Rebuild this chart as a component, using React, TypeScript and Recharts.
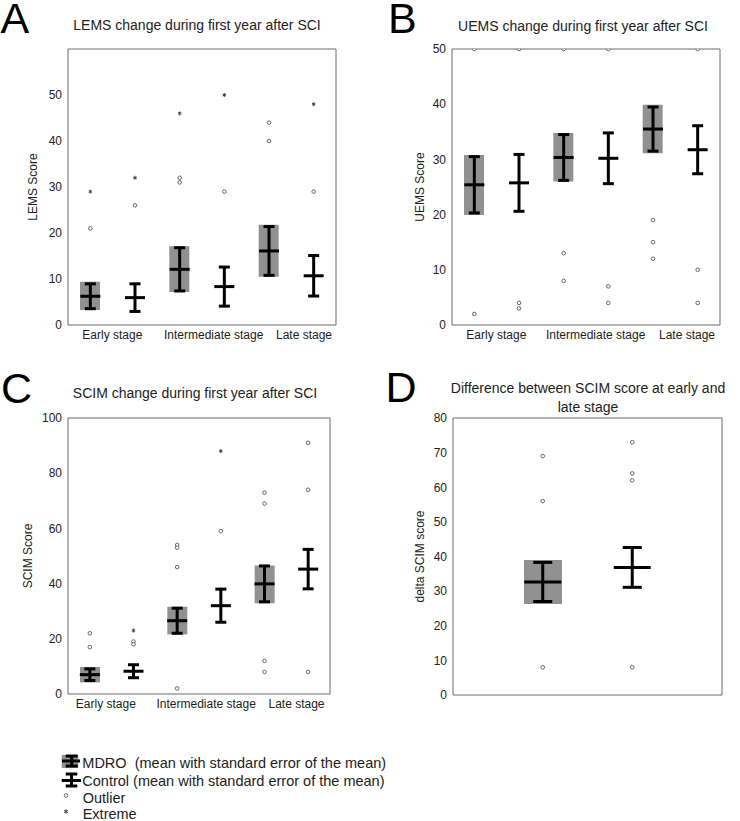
import { ComposedChart, Bar, Scatter, ErrorBar, XAxis, YAxis } from 'recharts'

// ── Data ──────────────────────────────────────────────────────────────────────

const stages = ['Early stage', 'Intermediate stage', 'Late stage']
const slots = [
  'Early MDRO', 'Early Control',
  'Intermediate MDRO', 'Intermediate Control',
  'Late MDRO', 'Late Control',
]
const deltaSlots = ['MDRO', 'Control']

// A — LEMS
const lemsMean = [6.25, 5.95, 12.1, 8.35, 16.1, 10.7]
const lemsSem = [2.7, 3.0, 4.7, 4.25, 5.3, 4.4]
const lemsBox = [[3.25, 9.4], null, [7.15, 17.1], null, [10.5, 21.8], null]
const lemsOutliers = [[21], [26], [32, 31], [29], [44, 40], [29]]
const lemsExtremes = [[29], [32], [46], [50], [], [48]]

// B — UEMS
const uemsMean = [25.4, 25.75, 30.35, 30.2, 35.5, 31.75]
const uemsSem = [5.1, 5.15, 4.15, 4.6, 4.0, 4.35]
const uemsBox = [[19.95, 30.8], null, [26.0, 34.8], null, [31.1, 39.9], null]
const uemsOutliers = [[50, 2], [50, 4, 3], [50, 13, 8], [50, 7, 4], [19, 15, 12], [50, 10, 4]]
const uemsExtremes = [[], [], [], [], [], []]

// C — SCIM
const scimMean = [7.0, 8.25, 26.55, 32.0, 39.9, 45.25]
const scimSem = [2.1, 2.35, 4.55, 6.0, 6.5, 7.15]
const scimBox = [[4.2, 9.8], null, [21.6, 31.6], null, [32.9, 46.6], null]
const scimOutliers = [[22, 17], [19, 18], [54, 53, 46, 2], [59], [73, 69, 12, 8], [91, 74, 8]]
const scimExtremes = [[], [23], [], [88], [], []]

// D — delta SCIM
const deltaMean = [32.65, 36.85]
const deltaSem = [5.65, 5.75]
const deltaBox = [[26.3, 39.0], null]
const deltaOutliers = [[69, 56, 8], [73, 64, 62, 8]]
const deltaExtremes = [[], []]

// ── Helpers ───────────────────────────────────────────────────────────────────

type Row = Record<string, any>

function buildRows(
  names: string[], mean: number[], sem: number[],
  box: (number[] | null)[], outliers: number[][], extremes: number[][],
): Row[] {
  return names.map((slot, i) => {
    const row: Row = { slot, mean: mean[i], sem: sem[i], box: box[i] }
    outliers[i].forEach((v, k) => { row['o' + k] = v })
    extremes[i].forEach((v, k) => { row['x' + k] = v })
    return row
  })
}

const INK = '#222'
const FRAME = '#6a6a6a'
const BOX = '#919191'
const FONT = '"Liberation Sans", Arial, sans-serif'

const nothing = () => <g />

const meanShape = (half: number) => (p: any) =>
  p.cx == null || p.cy == null ? <g /> : (
    <line x1={p.cx - half} x2={p.cx + half} y1={p.cy} y2={p.cy} stroke="#000" strokeWidth={3} />
  )

const outlierShape = (p: any) =>
  p.cx == null || p.cy == null ? <g /> : (
    <circle cx={p.cx} cy={p.cy} r={1.8} fill="#fff" stroke="#444" strokeWidth={0.8} />
  )

function Asterisk({ cx, cy, r }: { cx: number; cy: number; r: number }) {
  const d = r * 0.87
  const h = r * 0.5
  return (
    <g stroke="#333" strokeWidth={0.9}>
      <line x1={cx} x2={cx} y1={cy - r} y2={cy + r} />
      <line x1={cx - d} x2={cx + d} y1={cy - h} y2={cy + h} />
      <line x1={cx - d} x2={cx + d} y1={cy + h} y2={cy - h} />
    </g>
  )
}

const extremeShape = (p: any) =>
  p.cx == null || p.cy == null ? <g /> : <Asterisk cx={p.cx} cy={p.cy} r={2} />

const stageTick = (dx: number[]) => (props: any) => {
  const index = props.index ?? props.payload?.index
  if (index % 2 !== 0) return <g />
  const k = index / 2
  return (
    <text x={props.x + dx[k]} y={props.y} dy="0.71em" textAnchor="middle" fontSize={12} fill={INK}>
      {stages[k]}
    </text>
  )
}

// ── Panel ─────────────────────────────────────────────────────────────────────

interface PanelProps {
  rows: Row[]
  left: number
  top: number
  width: number
  height: number
  marginTop: number
  marginRight: number
  yAxisWidth: number
  yDomain: [number, number]
  yTicks: number[]
  yLabel: string
  yLabelX: number
  stageDx?: number[]
  xPadding?: number
  boxWidth: number
  meanHalf: number
  capHalf: number
}

function Panel(p: PanelProps) {
  // the top and right frame axes take 1px each, so the margins give it back
  return (
    <div style={{ position: 'absolute', left: p.left, top: p.top }}>
      <ComposedChart
        width={p.width}
        height={p.height}
        data={p.rows}
        margin={{ top: p.marginTop - 1, right: p.marginRight - 1, bottom: 0, left: 0 }}
      >
        <XAxis
          dataKey="slot"
          interval={0}
          height={20}
          tickSize={0}
          tickMargin={5}
          tickLine={false}
          axisLine={{ stroke: FRAME }}
          padding={p.xPadding ? { left: p.xPadding, right: p.xPadding } : undefined}
          tick={p.stageDx ? stageTick(p.stageDx) : false}
        />
        <XAxis xAxisId="top" orientation="top" dataKey="slot" height={1} tick={false} tickLine={false} axisLine={{ stroke: FRAME }} />
        <YAxis
          width={p.yAxisWidth}
          domain={p.yDomain}
          ticks={p.yTicks}
          allowDataOverflow
          interval={0}
          tickSize={4}
          tickMargin={2}
          tickLine={false}
          axisLine={{ stroke: FRAME }}
          tick={{ fill: INK, fontSize: 12 }}
          label={{
            value: p.yLabel,
            angle: -90,
            position: 'insideLeft',
            offset: p.yLabelX,
            style: { textAnchor: 'middle', fontSize: 12, fill: INK },
          }}
        />
        <YAxis yAxisId="right" orientation="right" width={1} domain={p.yDomain} allowDataOverflow tick={false} tickLine={false} axisLine={{ stroke: FRAME }} />

        <Bar dataKey="box" barSize={p.boxWidth} fill={BOX} isAnimationActive={false} />

        <Scatter dataKey="mean" shape={meanShape(p.meanHalf)} isAnimationActive={false}>
          <ErrorBar dataKey="sem" direction="y" width={p.capHalf} strokeWidth={3} stroke="#000" isAnimationActive={false} />
        </Scatter>

        {[0, 1, 2, 3].map((k) => (
          <Scatter key={'o' + k} dataKey={'o' + k} shape={outlierShape} isAnimationActive={false} />
        ))}
        <Scatter dataKey="x0" shape={extremeShape} isAnimationActive={false} />

        {/* invisible series so the frame axes get a domain */}
        <Scatter xAxisId="top" yAxisId="right" dataKey="mean" shape={nothing} isAnimationActive={false} />
      </ComposedChart>
    </div>
  )
}

// ── App ───────────────────────────────────────────────────────────────────────

export default function App() {
  const lemsRows = buildRows(slots, lemsMean, lemsSem, lemsBox, lemsOutliers, lemsExtremes)
  const uemsRows = buildRows(slots, uemsMean, uemsSem, uemsBox, uemsOutliers, uemsExtremes)
  const scimRows = buildRows(slots, scimMean, scimSem, scimBox, scimOutliers, scimExtremes)
  const deltaRows = buildRows(deltaSlots, deltaMean, deltaSem, deltaBox, deltaOutliers, deltaExtremes)

  const letter = { fontSize: 43, fill: '#000' }
  const title = { fontSize: 14, fill: INK, textAnchor: 'middle' as const }
  const legendText = { fontSize: 14.5, fill: INK, style: { whiteSpace: 'pre' as const } }

  return (
    <div style={{ position: 'absolute', left: 0, top: 0, width: 740, height: 821, background: '#fff', fontFamily: FONT }}>
      <svg width={740} height={821} style={{ position: 'absolute', left: 0, top: 0 }}>
        <text x={0.5} y={33} {...letter}>A</text>
        <text x={388} y={33.3} {...letter}>B</text>
        <text x={1} y={402.5} {...letter}>C</text>
        <text x={385.5} y={401.7} {...letter}>D</text>

        <text x={197} y={29.5} {...title}>LEMS change during first year after SCI</text>
        <text x={583} y={31} {...title}>UEMS change during first year after SCI</text>
        <text x={195} y={398} {...title}>SCIM change during first year after SCI</text>
        <text x={588} y={393} {...title}>Difference between SCIM score at early and</text>
        <text x={588} y={412} {...title}>late stage</text>

        {/* legend */}
        <rect x={61.7} y={755} width={16.6} height={13} fill={BOX} />
        <g stroke="#000" strokeWidth={3}>
          <line x1={71.7} x2={71.7} y1={756} y2={766} />
          <line x1={65.7} x2={77.7} y1={756} y2={756} />
          <line x1={65.7} x2={77.7} y1={766} y2={766} />
          <line x1={62} x2={80} y1={761} y2={761} />
          <line x1={71.5} x2={71.5} y1={774} y2={786} />
          <line x1={65.7} x2={77.3} y1={774} y2={774} />
          <line x1={65.7} x2={77.3} y1={786} y2={786} />
          <line x1={61.7} x2={81} y1={780.5} y2={780.5} />
        </g>
        <circle cx={66} cy={795.5} r={1.8} fill="#fff" stroke="#444" strokeWidth={0.8} />
        <Asterisk cx={66} cy={811.5} r={2.3} />
        <text x={82.3} y={768.3} {...legendText}>MDRO  (mean with standard error of the mean)</text>
        <text x={82.3} y={785.5} {...legendText}>Control (mean with standard error of the mean)</text>
        <text x={82.7} y={802.7} {...legendText}>Outlier</text>
        <text x={82.7} y={819} {...legendText}>Extreme</text>
      </svg>

      <Panel
        rows={lemsRows} left={0} top={0} width={345} height={345}
        marginTop={49} marginRight={9} yAxisWidth={68}
        yDomain={[0, 60]} yTicks={[0, 10, 20, 30, 40, 50]}
        yLabel="LEMS Score" yLabelX={33} stageDx={[22, 34, 35]}
        boxWidth={20} meanHalf={10} capHalf={5.5}
      />
      <Panel
        rows={uemsRows} left={370} top={0} width={360} height={345}
        marginTop={49} marginRight={10} yAxisWidth={82}
        yDomain={[0, 50]} yTicks={[0, 10, 20, 30, 40, 50]}
        yLabel="UEMS Score" yLabelX={50} stageDx={[22, 32, 34]}
        boxWidth={20} meanHalf={10} capHalf={5.5}
      />
      <Panel
        rows={scimRows} left={0} top={370} width={340} height={344}
        marginTop={48} marginRight={10} yAxisWidth={68}
        yDomain={[0, 100]} yTicks={[0, 20, 40, 60, 80, 100]}
        yLabel="SCIM Score" yLabelX={28} stageDx={[16, 29, 32]}
        boxWidth={20} meanHalf={10} capHalf={5.5}
      />
      <Panel
        rows={deltaRows} left={370} top={370} width={362} height={345}
        marginTop={48} marginRight={10} yAxisWidth={83}
        yDomain={[0, 80]} yTicks={[0, 10, 20, 30, 40, 50, 60, 70, 80]}
        yLabel="delta SCIM score" yLabelX={50} xPadding={45}
        boxWidth={38} meanHalf={18.5} capHalf={9.5}
      />
    </div>
  )
}
